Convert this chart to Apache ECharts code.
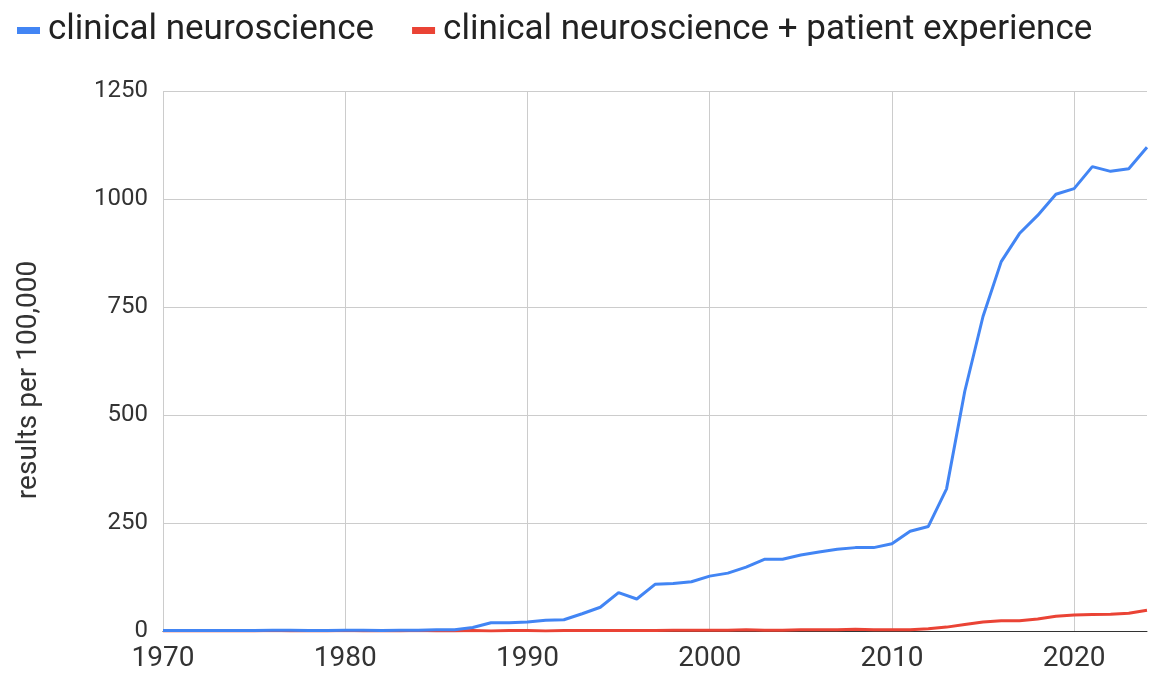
<!DOCTYPE html>
<html>
<head>
<meta charset="utf-8">
<script src="https://cdn.jsdelivr.net/npm/echarts@6/dist/echarts.min.js"></script>
<style>
  html, body { margin: 0; padding: 0; background: #fff; }
  #chart { width: 1149px; height: 679px; }
</style>
</head>
<body>
<div id="chart"></div>
<script>
var years = [1970, 1971, 1972, 1973, 1974, 1975, 1976, 1977, 1978, 1979,
    1980, 1981, 1982, 1983, 1984, 1985, 1986, 1987, 1988, 1989,
    1990, 1991, 1992, 1993, 1994, 1995, 1996, 1997, 1998, 1999,
    2000, 2001, 2002, 2003, 2004, 2005, 2006, 2007, 2008, 2009,
    2010, 2011, 2012, 2013, 2014, 2015, 2016, 2017, 2018, 2019,
    2020, 2021, 2022, 2023, 2024];
var neuro = [1, 1, 1, 1, 1, 1, 2, 2, 1, 1,
    2, 2, 1, 2, 2, 3, 3, 8, 19, 19,
    21, 25, 26, 40, 55, 89, 74, 108, 110, 114,
    127, 134, 148, 166, 166, 176, 183, 189, 193, 193,
    202, 231, 242, 329, 555, 728, 855, 920, 962, 1011,
    1024, 1075, 1064, 1070, 1120];
var neuroPatient = [0, 0, 0, 0, 0, 0, 1, 0, 0, 0,
    1, 0, 0, 0, 1, 0, 0, 1, 0, 1,
    1, 0, 1, 1, 1, 1, 1, 1, 2, 2,
    2, 2, 3, 2, 2, 3, 3, 3, 4, 3,
    3, 3, 5, 9, 15, 21, 24, 24, 28, 34,
    37, 38, 39, 41, 48];
var seriesNames = ['clinical neuroscience', 'clinical neuroscience + patient experience'];
var yTicks = [0, 250, 500, 750, 1000, 1250];

function pairs(vals) {
    return years.map(function(y, i){ return [y, vals[i]]; });
}

var chart = echarts.init(document.getElementById('chart'));
var FONT = 'Roboto, Arial, sans-serif';

var option = {
    animation: false,
    legend: {
        left: 12,
        top: 8,
        icon: 'rect',
        itemWidth: 23,
        itemHeight: 7,
        itemGap: 38,
        textStyle: { fontSize: 35, color: '#222', fontFamily: FONT, padding: [0, 0, 0, 3] },
        data: seriesNames
    },
    grid: { left: 163, right: 2, top: 91, bottom: 48 },
    xAxis: {
        type: 'value',
        min: 1970,
        max: 2024,
        interval: 10,
        axisLine: { show: true, lineStyle: { color: '#333', width: 1 } },
        axisTick: { show: false },
        axisLabel: {
            fontSize: 28, color: '#333', fontFamily: FONT, margin: 14,
            showMaxLabel: false,
            formatter: function(v){ return String(v); }
        },
        splitLine: { show: true, showMaxLine: false, lineStyle: { color: '#ccc', width: 1 } }
    },
    yAxis: {
        type: 'value',
        min: yTicks[0],
        max: yTicks[yTicks.length - 1],
        interval: 250,
        name: 'results per 100,000',
        nameLocation: 'middle',
        nameGap: 120,
        nameTextStyle: { fontSize: 28, color: '#333', fontFamily: FONT, padding: [0, 38, 0, 0] },
        axisLine: { show: false },
        axisTick: { show: false },
        axisLabel: {
            fontSize: 24, color: '#333', fontFamily: FONT, margin: 15,
            formatter: function(v){ return String(v); }
        },
        splitLine: { lineStyle: { color: '#ccc', width: 1 } }
    },
    series: [{
        name: seriesNames[0],
        type: 'line',
        data: pairs(neuro),
        showSymbol: false,
        lineStyle: { width: 3, color: '#4285F4' },
        itemStyle: { color: '#4285F4' },
        z: 3
    }, {
        name: seriesNames[1],
        type: 'line',
        data: pairs(neuroPatient),
        showSymbol: false,
        lineStyle: { width: 3, color: '#EA4335' },
        itemStyle: { color: '#EA4335' },
        z: 2
    }]
};
chart.setOption(option);
</script>
</body>
</html>
